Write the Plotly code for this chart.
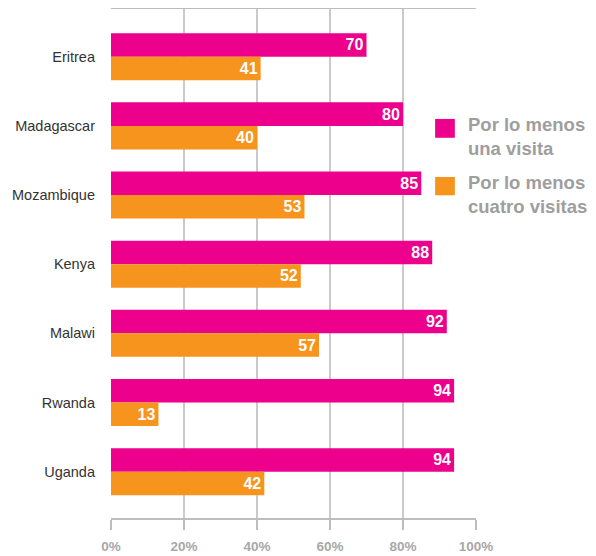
import plotly.graph_objects as go

# Datos
paises = ["Eritrea", "Madagascar", "Mozambique", "Kenya", "Malawi", "Rwanda", "Uganda"]
una_visita = [70, 80, 85, 88, 92, 94, 94]
cuatro_visitas = [41, 40, 53, 52, 57, 13, 42]
ticks_x = [0, 20, 40, 60, 80, 100]
etiquetas_x = ["0%", "20%", "40%", "60%", "80%", "100%"]
leyenda = ["Por lo menos<br>una visita", "Por lo menos<br>cuatro visitas"]

MAGENTA = "#EC008C"
NARANJA = "#F7941D"
GRIS_TEXTO = "#9E9E9E"

fig = go.Figure()

# Barras: al menos una visita
fig.add_trace(
    go.Bar(
        y=paises,
        x=una_visita,
        orientation="h",
        marker=dict(color=MAGENTA, line=dict(width=0)),
        text=[f"<b>{v}</b>" for v in una_visita],
        textposition="inside",
        insidetextanchor="end",
        textangle=0,
        constraintext="none",
        textfont=dict(family="Liberation Sans", size=16, color="white"),
        showlegend=False,
    )
)

# Barras: al menos cuatro visitas
fig.add_trace(
    go.Bar(
        y=paises,
        x=cuatro_visitas,
        orientation="h",
        marker=dict(color=NARANJA, line=dict(width=0)),
        text=[f"<b>{v}</b>" for v in cuatro_visitas],
        textposition="inside",
        insidetextanchor="end",
        textangle=0,
        constraintext="none",
        textfont=dict(family="Liberation Sans", size=16, color="white"),
        showlegend=False,
    )
)

# Leyenda dibujada a mano (fondo blanco sobre la rejilla)
fig.add_shape(
    type="rect", xref="paper", yref="paper",
    x0=0.865, x1=1.33, y0=0.585, y1=0.81,
    fillcolor="white", line=dict(width=0), layer="above",
)
colores_leyenda = [MAGENTA, NARANJA]
pos_leyenda = [(0.784, 0.747), (0.670, 0.634)]
for texto, color, (ya, yb) in zip(leyenda, colores_leyenda, pos_leyenda):
    fig.add_shape(
        type="rect", xref="paper", yref="paper",
        x0=0.888, x1=0.942, y0=yb, y1=ya,
        fillcolor=color, line=dict(width=0), layer="above",
    )
    fig.add_annotation(
        xref="paper", yref="paper",
        x=0.972, y=ya + 0.014,
        xanchor="left", yanchor="top",
        align="left",
        text=f"<b>{texto}</b>",
        showarrow=False,
        font=dict(family="Liberation Sans", size=18.5, color=GRIS_TEXTO),
    )

# la página añade 8 px de margen al body: se compensa aquí
fig.update_layout(
    barmode="group",
    bargap=0.32,
    bargroupgap=0,
    width=596,
    height=556,
    plot_bgcolor="white",
    paper_bgcolor="white",
    margin=dict(l=103, r=128, t=1, b=46, autoexpand=False),
    xaxis=dict(
        range=[0, 100],
        tickvals=ticks_x,
        ticktext=etiquetas_x,
        showgrid=True,
        gridcolor="#CACACA",
        gridwidth=1.5,
        showline=True,
        linecolor="#BDBDBD",
        linewidth=1.5,
        mirror=True,
        ticks="outside",
        ticklen=10,
        tickcolor="#BDBDBD",
        tickwidth=1.5,
        ticklabelstandoff=5,
        zeroline=False,
        tickfont=dict(family="Liberation Sans", size=13.5, color="#A8A8A8", weight="bold"),
    ),
    yaxis=dict(
        range=[6.67, -0.69],
        showgrid=False,
        zeroline=False,
        showline=False,
        ticks="",
        ticklabelstandoff=15,
        tickfont=dict(family="Liberation Sans", size=14.5, color="#333333"),
    ),
)

fig.write_html("out.html")
